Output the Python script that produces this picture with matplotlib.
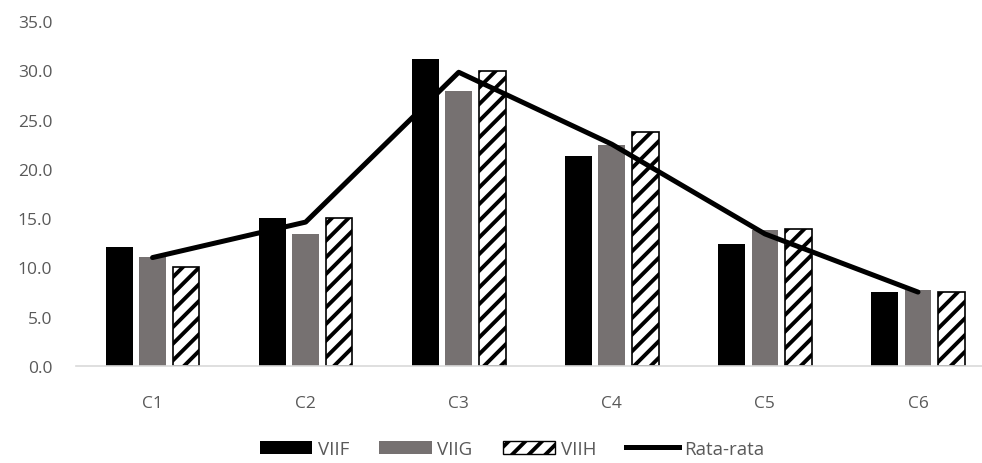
import numpy as np
import matplotlib.pyplot as plt
from matplotlib.patches import Patch
from matplotlib.lines import Line2D

categories = ['C1', 'C2', 'C3', 'C4', 'C5', 'C6']
viif = [12.1, 15.0, 31.1, 21.3, 12.4, 7.5]
viig = [11.1, 13.4, 27.9, 22.4, 13.8, 7.7]
viih = [10.0, 15.0, 29.9, 23.7, 13.9, 7.5]
rata = [11.0, 14.6, 29.8, 22.5, 13.4, 7.5]

plt.rcParams['font.family'] = ['Open Sans', 'DejaVu Sans']
plt.rcParams['hatch.linewidth'] = 2.8
plt.rcParams['hatch.color'] = '#222222'
text_col = '#595959'

fig = plt.figure(figsize=(9.82, 4.64), dpi=100)
ax = fig.add_axes([76 / 982, 97 / 464, 906 / 982, 345 / 464])

x = np.arange(len(categories))
w = 0.175
step = 0.218
ax.bar(x - step, viif, w, color='black')
ax.bar(x, viig, w, color='#767171')
ax.bar(x + step, viih, w, color='white', edgecolor='black', linewidth=1.2, hatch='//')
ax.plot(x, rata, color='black', linewidth=3.6, solid_capstyle='round')

ax.set_ylim(0, 35)
ax.set_xlim(-0.5, 5.418)
ax.set_yticks(np.arange(0, 36, 5))
ax.set_yticklabels([f'{v:.1f}' for v in np.arange(0, 36, 5)])
ax.set_xticks(x)
ax.set_xticklabels(categories)
ax.tick_params(axis='y', length=0, pad=17, labelsize=12.5, labelcolor=text_col)
ax.tick_params(axis='x', length=0, pad=21, labelsize=12.5, labelcolor=text_col)
for s in ['top', 'right', 'left']:
    ax.spines[s].set_visible(False)
ax.spines['bottom'].set_color('#d9d9d9')
ax.spines['bottom'].set_linewidth(1.2)

handles = [
    Patch(facecolor='black', label='VIIF'),
    Patch(facecolor='#767171', label='VIIG'),
    Patch(facecolor='white', edgecolor='black', hatch='//', label='VIIH'),
    Line2D([0], [0], color='black', linewidth=3.6, label='Rata-rata'),
]
leg = fig.legend(handles=handles, loc='center', bbox_to_anchor=(512 / 982, 1 - 450 / 464),
                 ncol=4, frameon=False, fontsize=13.5, handlelength=2.8, handleheight=0.75,
                 handletextpad=0.3, columnspacing=1.6)
for t in leg.get_texts():
    t.set_color(text_col)

fig.savefig('out.png', dpi=100)
